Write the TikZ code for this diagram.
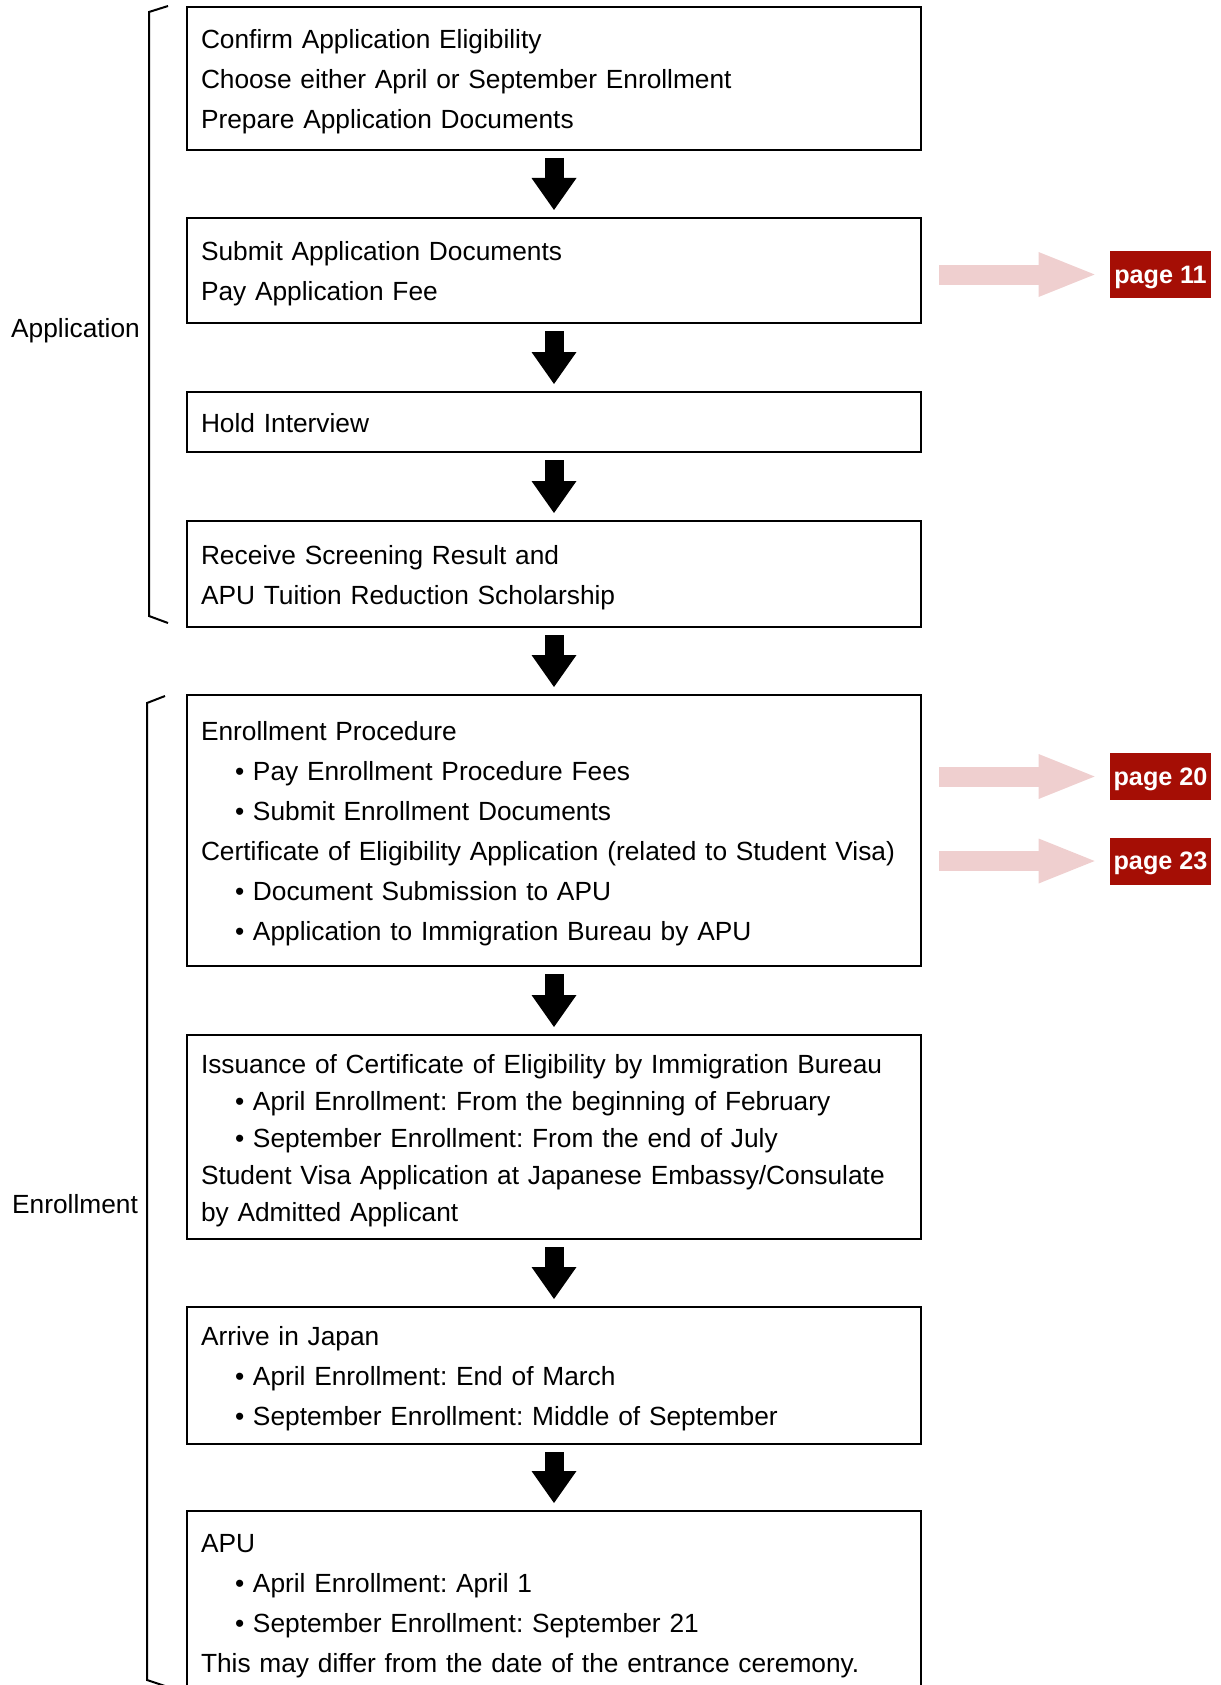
\documentclass[tikz,border=0pt]{standalone}
\usepackage{fontspec}
\setmainfont{Liberation Sans}
\usepackage{tikz}
\usetikzlibrary{arrows.meta}
\definecolor{pagered}{RGB}{165,14,5}
\definecolor{pagepink}{RGB}{239,207,207}
\newcommand{\bitem}[1]{\hspace*{17pt}\textbullet\ #1}
\frenchspacing

\begin{document}
\begin{tikzpicture}[x=0.5pt,y=-0.5pt,
    stepbox/.style={draw,line width=1pt,anchor=north west,text width=353pt,inner xsep=7pt,inner ysep=0pt,align=left,font=\fontsize{13.15}{20}\selectfont,
      execute at begin node={\rule{0pt}{13.6pt}},execute at end node={\rule[-3.4pt]{0pt}{0pt}}},
    flow/.style={line width=9.5pt,-{Triangle[width=22.5pt,length=16pt,line width=0pt]},shorten <=3.5pt,shorten >=3.5pt},
    pagebox/.style={fill=pagered,text=white,font=\bfseries\fontsize{12.6}{15}\selectfont,minimum width=50.5pt,minimum height=23.5pt,inner sep=0pt,text height=9pt,text depth=0.2pt},
    pagelink/.style={pagepink,line width=10pt,-{Triangle[width=22.5pt,length=28pt,line width=0pt]},shorten <=8.5pt,shorten >=7.5pt},
    grouplabel/.style={font=\fontsize{13.15}{16}\selectfont,inner sep=0pt},
    bracket/.style={line width=1pt}]
      \useasboundingbox (0,0) rectangle (1220,1685);
      \node[stepbox,minimum height=71.5pt] (confirm) at (186,6) {Confirm Application Eligibility\\Choose either April or September Enrollment\\Prepare Application Documents};
      \node[stepbox,minimum height=52.5pt] (submit) at (186,217) {Submit Application Documents\\Pay Application Fee};
      \node[stepbox,minimum height=30pt] (interview) at (186,391) {Hold Interview};
      \node[stepbox,minimum height=53pt] (result) at (186,520) {Receive Screening Result and\\APU Tuition Reduction Scholarship};
      \node[stepbox,minimum height=135.5pt] (procedure) at (186,694) {Enrollment Procedure\\\bitem{Pay Enrollment Procedure Fees}\\\bitem{Submit Enrollment Documents}\\Certificate of Eligibility Application (related to Student Visa)\\\bitem{Document Submission to APU}\\\bitem{Application to Immigration Bureau by APU}};
      \node[stepbox,minimum height=102pt,font=\fontsize{13.15}{18.5}\selectfont] (issuance) at (186,1034) {Issuance of Certificate of Eligibility by Immigration Bureau\\\bitem{April Enrollment: From the beginning of February}\\\bitem{September Enrollment: From the end of July}\\Student Visa Application at Japanese Embassy/Consulate\\by Admitted Applicant};
      \node[stepbox,minimum height=68.5pt] (arrive) at (186,1306) {Arrive in Japan\\\bitem{April Enrollment: End of March}\\\bitem{September Enrollment: Middle of September}};
      \node[stepbox,minimum height=91pt] (apu) at (186,1510) {APU\\\bitem{April Enrollment: April 1}\\\bitem{September Enrollment: September 21}\\This may differ from the date of the entrance ceremony.};
      \foreach \a/\b in {confirm/submit,submit/interview,interview/result,result/procedure,procedure/issuance,issuance/arrive,arrive/apu}
        \draw[flow] (\a) -- (\b);
      \node[pagebox] (p11) at (1160.5,274.5) {page 11};
      \node[pagebox] (p20) at (1160.5,776.5) {page 20};
      \node[pagebox] (p23) at (1160.5,861) {page 23};
      \draw[pagelink] (submit.east |- p11.west) -- (p11.west);
      \draw[pagelink] (procedure.east |- p20.west) -- (p20.west);
      \draw[pagelink] (procedure.east |- p23.west) -- (p23.west);
      \draw[bracket] (168,6) -- (149,12) -- (149,616) -- (168,623);
      \draw[bracket] (165,696) -- (147,703) -- (147,1680) -- (165,1686);
      \node[grouplabel] (application) at (75.5,331) {Application};
      \node[grouplabel] (enrollment) at (75,1204.5) {Enrollment};
\end{tikzpicture}
\end{document}
